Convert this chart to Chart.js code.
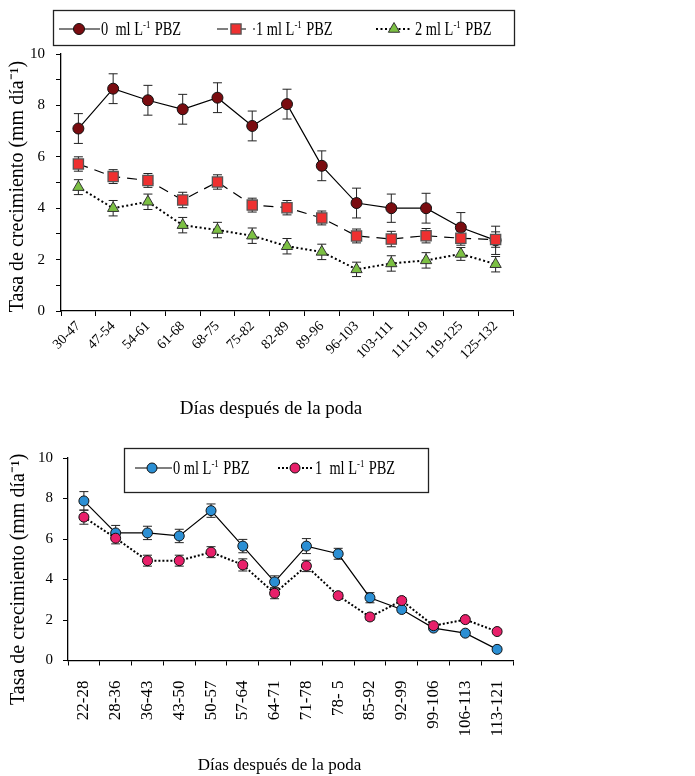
<!DOCTYPE html>
<html>
<head>
<meta charset="utf-8">
<script src="https://cdn.jsdelivr.net/npm/chart.js@4"></script>
<style>
html,body{margin:0;padding:0;background:#fff;overflow:hidden;width:695px;height:776px;}
#c1{position:absolute;left:0;top:0;}
#c2{position:absolute;left:0;top:416px;}
</style>
</head>
<body>
<canvas id="c1" width="695" height="430"></canvas>
<canvas id="c2" width="695" height="360"></canvas>
<script>
const FONT = "'Liberation Serif', 'Times New Roman', serif";

// ---------- Top chart data ----------
const topCategories = ['30-47','47-54','54-61','61-68','68-75','75-82','82-89','89-96','96-103','103-111','111-119','119-125','125-132'];
const top0 = [7.1, 8.65, 8.2, 7.85, 8.3, 7.2, 8.05, 5.65, 4.2, 4.0, 4.0, 3.25, 2.75];
const top0Err = [0.58, 0.58, 0.58, 0.58, 0.58, 0.58, 0.58, 0.58, 0.58, 0.55, 0.58, 0.58, 0.55];
const top1 = [5.72, 5.23, 5.08, 4.32, 5.02, 4.12, 4.02, 3.62, 2.92, 2.8, 2.93, 2.83, 2.78];
const top1Err = [0.28, 0.27, 0.27, 0.3, 0.28, 0.27, 0.28, 0.27, 0.27, 0.3, 0.28, 0.27, 0.3];
const top2 = [4.82, 4.0, 4.25, 3.34, 3.15, 2.93, 2.52, 2.3, 1.62, 1.85, 1.97, 2.22, 1.82];
const top2Err = [0.29, 0.3, 0.3, 0.3, 0.3, 0.3, 0.3, 0.3, 0.28, 0.3, 0.3, 0.25, 0.3];
const topLabels = ['0 ml L⁻¹ PBZ', '1 ml L⁻¹ PBZ', '2 ml L⁻¹ PBZ'];

// ---------- Bottom chart data ----------
const bottomCategories = ['22-28','28-36','36-43','43-50','50-57','57-64','64-71','71-78','78- 5','85-92','92-99','99-106','106-113','113-121'];
const bottom0 = [7.88, 6.3, 6.3, 6.15, 7.4, 5.65, 3.88, 5.65, 5.27, 3.1, 2.52, 1.6, 1.35, 0.55];
const bottom0Err = [0.46, 0.37, 0.33, 0.33, 0.33, 0.33, 0.3, 0.37, 0.27, 0.25, 0.12, 0.1, 0.1, 0.1];
const bottom1 = [7.08, 6.04, 4.93, 4.93, 5.35, 4.72, 3.32, 4.67, 3.2, 2.15, 2.96, 1.72, 2.02, 1.43];
const bottom1Err = [0.35, 0.28, 0.27, 0.27, 0.27, 0.3, 0.27, 0.28, 0.15, 0.15, 0.15, 0.1, 0.1, 0.1];
const bottomLabels = ['0 ml L⁻¹ PBZ', '1 ml L⁻¹ PBZ'];

const yTickValues = [0, 2, 4, 6, 8, 10];
const xTitle = 'Días después de la poda';
const yTitle = 'Tasa de crecimiento (mm día⁻¹)';

// ---------- plugins ----------
const errorBarPlugin = {
  id: 'errorBars',
  beforeDatasetsDraw(chart) {
    const ctx = chart.ctx, ys = chart.scales.y;
    chart.data.datasets.forEach((ds, di) => {
      if (!ds.errorBars) return;
      const meta = chart.getDatasetMeta(di);
      ctx.save();
      ctx.strokeStyle = '#222';
      ctx.lineWidth = 1;
      meta.data.forEach((pt, i) => {
        const v = ds.data[i], e = ds.errorBars[i];
        if (v == null || !e) return;
        const y1 = ys.getPixelForValue(v + e), y2 = ys.getPixelForValue(v - e);
        const x = pt.x;
        ctx.beginPath();
        ctx.moveTo(x, y1); ctx.lineTo(x, y2);
        ctx.moveTo(x - 4.5, y1); ctx.lineTo(x + 4.5, y1);
        ctx.moveTo(x - 4.5, y2); ctx.lineTo(x + 4.5, y2);
        ctx.stroke();
      });
      ctx.restore();
    });
  }
};

function drawMarker(ctx, style, x, y, r, fill, stroke, bw) {
  ctx.save();
  ctx.fillStyle = fill; ctx.strokeStyle = stroke; ctx.lineWidth = bw;
  ctx.setLineDash([]);
  ctx.beginPath();
  if (style === 'rect') {
    const s = Math.SQRT1_2 * r;
    ctx.rect(x - s, y - s, 2 * s, 2 * s);
  } else if (style === 'triangle') {
    let a = 0;
    ctx.moveTo(x + Math.sin(a) * r, y - Math.cos(a) * r);
    a += 2 * Math.PI / 3;
    ctx.lineTo(x + Math.sin(a) * r, y - Math.cos(a) * r);
    a += 2 * Math.PI / 3;
    ctx.lineTo(x + Math.sin(a) * r, y - Math.cos(a) * r);
    ctx.closePath();
  } else {
    ctx.arc(x, y, r, 0, Math.PI * 2);
  }
  ctx.fill(); ctx.stroke();
  ctx.restore();
}

function makeLegendPlugin(cfg) {
  return {
    id: 'boxLegend',
    afterDraw(chart) {
      const ctx = chart.ctx;
      ctx.save();
      ctx.fillStyle = '#fff';
      ctx.fillRect(cfg.box.x, cfg.box.y, cfg.box.w, cfg.box.h);
      ctx.strokeStyle = '#222';
      ctx.lineWidth = 1.3;
      ctx.strokeRect(cfg.box.x, cfg.box.y, cfg.box.w, cfg.box.h);
      cfg.items.forEach((it, idx) => {
        const ds = chart.data.datasets[idx];
        ctx.save();
        ctx.strokeStyle = ds.borderColor;
        ctx.lineWidth = ds.borderWidth;
        ctx.setLineDash(it.dash || ds.borderDash || []);
        ctx.beginPath();
        ctx.moveTo(it.x0, cfg.y); ctx.lineTo(it.x1, cfg.y);
        ctx.stroke();
        ctx.restore();
        drawMarker(ctx, ds.pointStyle, it.mx, cfg.y, ds.pointRadius, ds.pointBackgroundColor, ds.pointBorderColor, ds.pointBorderWidth);
        // text with superscript, slightly condensed like the reference
        const parts = it.parts;
        const k = cfg.condense;
        ctx.save();
        ctx.translate(it.tx, 0);
        ctx.scale(k, 1);
        ctx.fillStyle = '#000';
        ctx.textBaseline = 'alphabetic';
        ctx.textAlign = 'left';
        let x = 0;
        const base = cfg.y + cfg.size * 0.33;
        ctx.font = cfg.size + 'px ' + FONT;
        ctx.fillText(parts[0], x, base); x += ctx.measureText(parts[0]).width;
        ctx.font = Math.round(cfg.size * 0.6) + 'px ' + FONT;
        ctx.fillText(parts[1], x, base - cfg.size * 0.4); x += ctx.measureText(parts[1]).width + 1;
        ctx.font = cfg.size + 'px ' + FONT;
        ctx.fillText(parts[2], x, base);
        ctx.restore();
      });
      ctx.restore();
    }
  };
}

function makeTitleShift(shifts) {
  return {
    id: 'titleShift',
    beforeDraw(chart) {
      Object.keys(shifts).forEach(id => {
        const sc = chart.scales[id];
        if (!sc || sc._shiftPatched) return;
        const orig = sc.drawTitle.bind(sc);
        sc.drawTitle = function () {
          const c = this.ctx;
          c.save();
          c.translate(shifts[id].x, shifts[id].y);
          orig();
          c.restore();
        };
        sc._shiftPatched = true;
      });
    }
  };
}

function yAxis(width, tickPad, titlePad) {
  return {
    min: 0, max: 10,
    ticks: {
      stepSize: 1, padding: tickPad, color: '#000',
      font: { family: FONT, size: 15 },
      callback: (v) => yTickValues.includes(v) ? String(v) : ''
    },
    grid: { drawOnChartArea: false, drawTicks: true, tickLength: 5, color: '#000', lineWidth: 1 },
    border: { display: true, color: '#000', width: 1.3 },
    title: { display: true, text: yTitle, color: '#000', font: { family: FONT, size: 20 }, padding: { top: titlePad, bottom: 0 } },
    afterFit(s) { s.width = width; }
  };
}

function xAxis(height, rot, tickSize, tickPad, titleSize) {
  return {
    type: 'category', offset: true,
    grid: { display: true, drawOnChartArea: false, offset: true, drawTicks: true, tickLength: 5, color: '#000', lineWidth: 1 },
    border: { display: true, color: '#000', width: 1.3 },
    ticks: { autoSkip: false, minRotation: rot, maxRotation: rot, padding: tickPad, color: '#000', font: { family: FONT, size: tickSize } },
    title: { display: true, text: xTitle, color: '#000', font: { family: FONT, size: titleSize }, padding: { top: 0, bottom: 0 } },
    afterFit(s) { s.height = height; }
  };
}

// ---------- Top chart ----------
new Chart(document.getElementById('c1'), {
  type: 'line',
  data: {
    labels: topCategories,
    datasets: [
      { label: topLabels[0], data: top0, errorBars: top0Err, borderColor: '#000', borderWidth: 1.2,
        pointStyle: 'circle', pointRadius: 5.5, pointBackgroundColor: '#7a0c10', pointBorderColor: '#111', pointBorderWidth: 1,
        tension: 0, fill: false, order: 3 },
      { label: topLabels[1], data: top1, errorBars: top1Err, borderColor: '#000', borderWidth: 1.2, borderDash: [10, 7],
        pointStyle: 'rect', pointRadius: 7.2, pointBackgroundColor: '#ee3030', pointBorderColor: '#555', pointBorderWidth: 1.3,
        tension: 0, fill: false, order: 2 },
      { label: topLabels[2], data: top2, errorBars: top2Err, borderColor: '#000', borderWidth: 2, borderDash: [2, 2.5],
        pointStyle: 'triangle', pointRadius: 6.5, pointBackgroundColor: '#7cc043', pointBorderColor: '#333', pointBorderWidth: 1,
        tension: 0, fill: false, order: 1 }
    ]
  },
  options: {
    responsive: false, animation: false, devicePixelRatio: 1,
    layout: { padding: { left: 2, right: 182, top: 54, bottom: 4 } },
    plugins: { legend: { display: false }, tooltip: { enabled: false } },
    scales: {
      x: xAxis(115, 45, 14, 2, 19),
      y: yAxis(59, 11, 4)
    }
  },
  plugins: [
    errorBarPlugin,
    makeLegendPlugin({
      box: { x: 53.5, y: 10.5, w: 461, h: 35 }, y: 29, size: 18, condense: 0.8,
      items: [
        { x0: 59, x1: 100, mx: 79, tx: 101, parts: ['0  ml L', '-1', ' PBZ'] },
        { x0: 217, x1: 255, mx: 236, tx: 256, dash: [11, 7], parts: ['1 ml L', '-1', ' PBZ'] },
        { x0: 376, x1: 412, mx: 394, tx: 415, parts: ['2 ml L', '-1', ' PBZ'] }
      ]
    }),
    makeTitleShift({ x: { x: -16, y: -6 }, y: { x: 0, y: 4 } })
  ]
});

// ---------- Bottom chart ----------
new Chart(document.getElementById('c2'), {
  type: 'line',
  data: {
    labels: bottomCategories,
    datasets: [
      { label: bottomLabels[0], data: bottom0, errorBars: bottom0Err, borderColor: '#000', borderWidth: 1.2,
        pointStyle: 'circle', pointRadius: 5, pointBackgroundColor: '#2b8fd4', pointBorderColor: '#111', pointBorderWidth: 1,
        tension: 0, fill: false, order: 2 },
      { label: bottomLabels[1], data: bottom1, errorBars: bottom1Err, borderColor: '#000', borderWidth: 2, borderDash: [2, 2],
        pointStyle: 'circle', pointRadius: 5, pointBackgroundColor: '#e8206a', pointBorderColor: '#111', pointBorderWidth: 1,
        tension: 0, fill: false, order: 1 }
    ]
  },
  options: {
    responsive: false, animation: false, devicePixelRatio: 1,
    layout: { padding: { left: 2, right: 182, top: 42, bottom: 0 } },
    plugins: { legend: { display: false }, tooltip: { enabled: false } },
    scales: {
      x: xAxis(115.5, 90, 17, 15, 17),
      y: yAxis(66, 10, 5)
    }
  },
  plugins: [
    errorBarPlugin,
    makeLegendPlugin({
      box: { x: 124.5, y: 32.5, w: 304, h: 44 }, y: 52, size: 18, condense: 0.8,
      items: [
        { x0: 135, x1: 172, mx: 152, tx: 173, parts: ['0 ml L', '-1', ' PBZ'] },
        { x0: 278, x1: 313, mx: 295, tx: 315, parts: ['1  ml L', '-1', ' PBZ'] }
      ]
    }),
    makeTitleShift({ x: { x: -11, y: 0 }, y: { x: 0, y: 20 } })
  ]
});
</script>
</body>
</html>
